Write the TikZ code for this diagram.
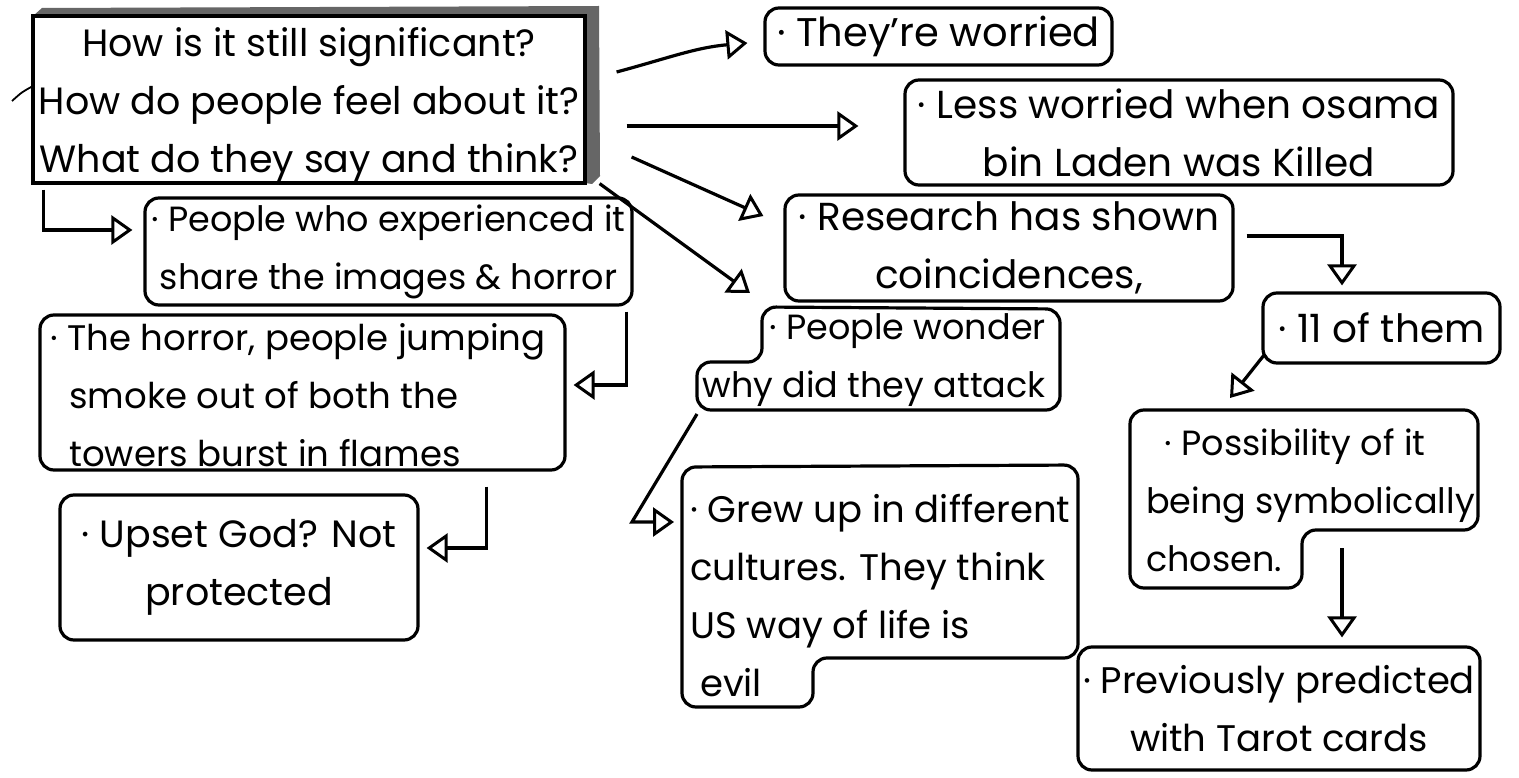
\documentclass[tikz,border=0pt]{standalone}
\usepackage{fontspec}
\setmainfont{Poppins}
\usetikzlibrary{arrows.meta,calc}
\newcommand{\hs}[1]{\fontsize{#1}{58}\selectfont}
\begin{document}
\begin{tikzpicture}[x=1pt,y=-1pt,
  box/.style={draw, line width=3.2pt, rounded corners=14pt, inner sep=0pt, align=center},
  txt/.style={inner sep=0pt},
  outline/.style={draw, line width=3.2pt, rounded corners=14pt},
  arr/.style={line width=3.2pt, -{Triangle[open, length=21pt, width=29pt, line width=3pt]}}
]
\useasboundingbox (0,0) rectangle (1519,778);

% main question box with 3D band
\fill[black!60] (33,16) -- (42,8) -- (599,6) -- (600,176) -- (592,184) -- (585,183) -- (585,16) -- cycle;
\node[draw, line width=3.2pt, inner sep=0pt, minimum width=552pt, minimum height=167pt] (main) at (309,99.5) {};
\node[txt, align=center, font=\hs{38}] (maintext) at (309,105)
  {How is it still significant?\\How do people feel about it?\\What do they say and think?};
\draw[line width=1.8pt] (12,101) .. controls (22,92) .. (33,86);

% rectangular boxes
\node[box, font=\hs{40}, minimum width=347pt, minimum height=57pt] (worried) at (938.5,36.5) {· They’re worried};
\node[box, font=\hs{39}, minimum width=548pt, minimum height=105pt] (less) at (1179,132.5)
  {· Less worried when osama\\bin Laden was Killed};
\node[box, font=\hs{35}, minimum width=487pt, minimum height=107pt] (exp) at (388.5,251.5)
  {· People who experienced it\\share the images \& horror};
\node[draw, line width=3.2pt, rounded corners=14pt, inner sep=0pt, minimum width=525pt, minimum height=155pt] (horror) at (302.5,392.5) {};
\node[txt, font=\hs{35.5}, align=left] (horrortext) at (298,395)
  {· The horror, people jumping\\\ \ smoke out of both the\\\ \ towers burst in flames};
\node[box, font=\hs{38}, minimum width=358pt, minimum height=145pt] (upset) at (239,567.5)
  {· Upset God? Not\\protected};
\node[box, font=\hs{39}, minimum width=448pt, minimum height=106pt] (research) at (1009,248)
  {· Research has shown\\coincidences,};
\node[box, font=\hs{39}, minimum width=237pt, minimum height=70pt] (eleven) at (1381.5,328) {· 11 of them};
\node[box, font=\hs{37}, minimum width=402pt, minimum height=123pt] (prev) at (1279,708.5)
  {· Previously predicted\\with Tarot cards};

% stepped boxes
\coordinate (wTL) at (762,307);
\coordinate (wBL) at (697,410);
\draw[outline] (wTL) -- (1060,309) -- (1060,410) -- (wBL) -- (697,362) -- (762,362) -- cycle;
\node[txt, font=\hs{35}, align=right, anchor=east] (wonder) at (1046,360) {· People wonder\\why did they attack};

\coordinate (gTL) at (682,467);
\draw[outline] (gTL) -- (1078,465) -- (1078,658) -- (813,658) -- (813,707) -- (682,707) -- cycle;
\node[txt, font=\hs{37}, align=left, anchor=west] (grew) at (690,596)
  {· Grew up in different\\cultures. They think\\US way of life is\\\ evil};

\coordinate (pTL) at (1130,410);
\coordinate (pStep) at (1302,530);
\draw[outline] (pTL) -- (1478,410) -- (1478,530) -- (pStep) -- (1302,588) -- (1130,588) -- cycle;
\node[txt, font=\hs{35}, align=left, anchor=west] (possib) at (1146,500)
  {\ \ · Possibility of it\\being symbolically\\chosen.};

% connectors
\draw[arr] ($(main.east)+(30,-27.5)$) to[out=15,in=185] ($(worried.west)+(-16,6.5)$);
\draw[arr] ($(main.east)+(40,26.5)$) -- ($(less.west)+(-45,-6.5)$);
\draw[arr] ($(main.east)+(45,57.5)$) -- ($(research.west)+(-20,-32)$);
\draw[arr] ($(main.south east)+(13,-1)$) -- ($(wTL)+(-12,-14)$);
\draw[arr] ($(main.south west)+(12,5)$) |- ($(exp.west)+(-11,-21.5)$);
\draw[arr] ($(exp.south east)+(-7,5)$) |- ($(horror.east)+(7,-7.5)$);
\draw[arr] ($(horror.south east)+(-80,15)$) |- ($(upset.east)+(7,-19.5)$);
\draw[arr] ($(wBL)+(0,4)$) -- ($(gTL)+(-50,55)$) -- ($(gTL)+(-8,55)$);
\draw[arr] ($(research.east)+(12,-12)$) -| ($(eleven.north)+(-39.5,-6)$);
\draw[arr] ($(eleven.south west)+(3,-10)$) -- ($(pTL)+(100,-12)$);
\draw[arr] ($(pStep)+(40,18)$) -- ($(prev.north)+(63,-8)$);
\end{tikzpicture}
\end{document}
